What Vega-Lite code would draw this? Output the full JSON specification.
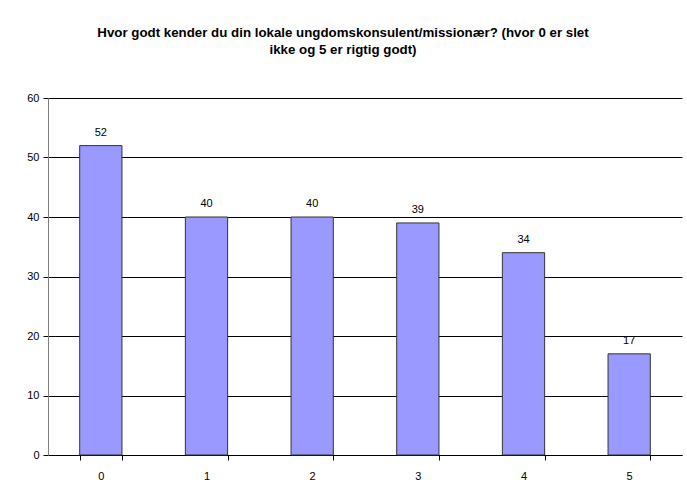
{
  "$schema": "https://vega.github.io/schema/vega-lite/v6.json",
  "width": 634,
  "height": 357,
  "autosize": {"type": "none"},
  "padding": {"left": 48, "top": 98, "right": 5, "bottom": 38},
  "background": "white",
  "title": {
    "text": ["Hvor godt kender du din lokale ungdomskonsulent/missionær? (hvor 0 er slet", "ikke og 5 er rigtig godt)"],
    "font": "Liberation Sans",
    "fontSize": 13.3,
    "fontWeight": "bold",
    "color": "black",
    "anchor": "middle",
    "frame": "group",
    "dx": -22,
    "offset": 36,
    "lineHeight": 17
  },
  "data": {
    "values": [
      {"k": "0", "v": 52},
      {"k": "1", "v": 40},
      {"k": "2", "v": 40},
      {"k": "3", "v": 39},
      {"k": "4", "v": 34},
      {"k": "5", "v": 17}
    ]
  },
  "encoding": {
    "x": {
      "field": "k", "type": "ordinal", "title": null,
      "scale": {"paddingInner": 0.6, "paddingOuter": 0.3},
      "axis": {"labelAngle": 0, "tickBand": "extent", "domainColor": "black", "tickColor": "black", "tickSize": 5, "labelPadding": 10, "grid": false}
    },
    "y": {
      "field": "v", "type": "quantitative", "title": null,
      "scale": {"domain": [0, 60], "nice": false},
      "axis": {"values": [0, 10, 20, 30, 40, 50, 60], "grid": true, "gridColor": "black", "gridOpacity": 1, "domainColor": "#808080", "tickColor": "black", "tickSize": 5, "labelPadding": 4}
    }
  },
  "layer": [
    {"mark": {"type": "bar", "fill": "#9999FF", "stroke": "#333333", "strokeWidth": 1}},
    {"mark": {"type": "text", "baseline": "bottom", "dy": -8, "font": "Liberation Sans", "fontSize": 11, "color": "black"}, "encoding": {"text": {"field": "v"}}}
  ],
  "config": {
    "view": {"stroke": null},
    "axis": {"labelFont": "Liberation Sans", "labelFontSize": 11, "labelColor": "black"}
  }
}
